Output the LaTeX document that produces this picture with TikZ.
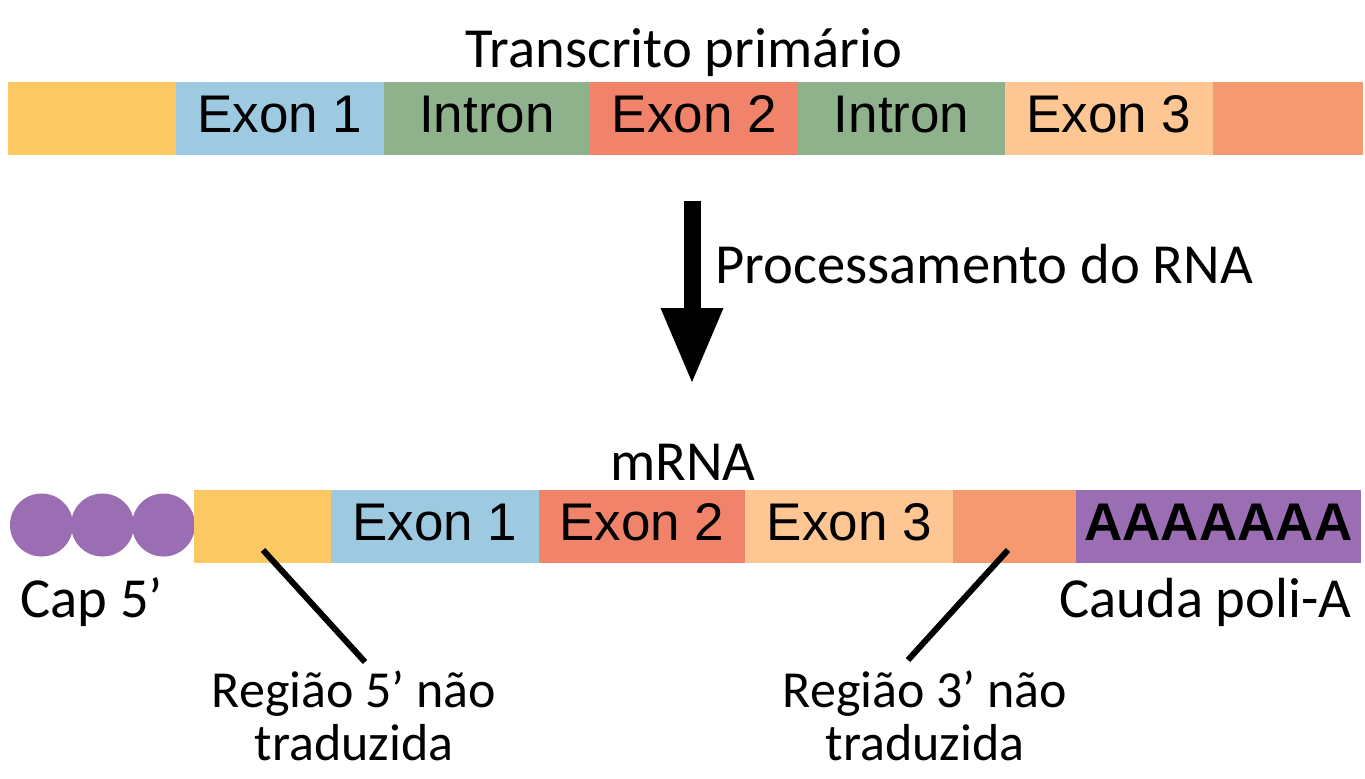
\documentclass[tikz,border=0pt]{standalone}
\usepackage{fontspec}
\setmainfont{Carlito}
\newfontfamily\arialfont{Liberation Sans}
\usepackage{tikz}
\usetikzlibrary{arrows.meta, positioning}

\definecolor{utrfive}{HTML}{FCC864}
\definecolor{exonone}{HTML}{9DCAE1}
\definecolor{introncol}{HTML}{8FB28C}
\definecolor{exontwo}{HTML}{F0836A}
\definecolor{exonthree}{HTML}{FDC693}
\definecolor{utrthree}{HTML}{F59A70}
\definecolor{capcol}{HTML}{9B6EB3}

\begin{document}
\begin{tikzpicture}[
                x=0.5pt, y=-0.5pt,
                segment/.style={rectangle, inner sep=0pt, minimum height=36pt, text height=19pt, text depth=4.5pt, line width=0.4pt, font=\arialfont\fontsize{26.5}{30}\selectfont},
                tone/.style={fill=#1, draw=#1},
                capdot/.style={circle, fill=capcol, inner sep=0pt, minimum size=31.5pt},
                txt/.style={inner sep=0pt, font=\fontsize{28.3}{26.5}\selectfont},
                note/.style={inner sep=0pt, align=center, font=\fontsize{26}{26.5}\selectfont},
                pointer/.style={line width=3pt},
                process/.style={-{Triangle[width=31.5pt, length=37pt, line width=0pt]}, line width=8.5pt}
                ]
                \useasboundingbox (0,0) rectangle (1365,778);

                % Transcrito primario - segmentos lado a lado
                \node[txt, anchor=base] (title) at (684,67) {Transcrito primário};
                \node[segment, tone=utrfive, minimum width=83.5pt, anchor=west] (t0) at (8,118) {};
                \node[segment, tone=exonone, minimum width=103.5pt, right=0pt of t0] (t1) {Exon 1};
                \node[segment, tone=introncol, minimum width=103pt, right=0pt of t1] (t2) {Intron};
                \node[segment, tone=exontwo, minimum width=103.5pt, right=0pt of t2] (t3) {Exon 2};
                \node[segment, tone=introncol, minimum width=103pt, right=0pt of t3] (t4) {Intron};
                \node[segment, tone=exonthree, minimum width=103.5pt, right=0pt of t4] (t5) {Exon 3};
                \node[segment, tone=utrthree, minimum width=74.5pt, right=0pt of t5] (t6) {};

                % Seta de processamento
                \coordinate (procstart) at (692,201);
                \coordinate (procend) at (692,382);
                \draw[process] (procstart) -- (procend);
                \node[txt, anchor=base west] (proc) at (715,283) {Processamento do RNA};

                % mRNA maduro
                \node[txt, anchor=base] (mrna) at (683,480) {mRNA};
                \node[capdot] (cap1) at (41.5,525) {};
                \node[capdot] (cap2) at (102.5,525) {};
                \node[capdot] (cap3) at (163.5,525) {};
                \node[segment, tone=utrfive, minimum width=68pt, anchor=west] (m0) at (194,526) {};
                \node[segment, tone=exonone, minimum width=103.5pt, right=0pt of m0] (m1) {Exon 1};
                \node[segment, tone=exontwo, minimum width=103pt, right=0pt of m1] (m2) {Exon 2};
                \node[segment, tone=exonthree, minimum width=103.5pt, right=0pt of m2] (m3) {Exon 3};
                \node[segment, tone=utrthree, minimum width=61pt, right=0pt of m3] (m4) {};
                \node[segment, tone=capcol, minimum width=142pt, right=0pt of m4, font=\arialfont\bfseries\fontsize{26.5}{30}\selectfont] (m5) {AAAAAAA};

                % Legendas
                \node[txt, anchor=base west] (cap) at (20,617) {Cap 5’};
                \node[txt, anchor=base east] (tail) at (1352,617) {Cauda poli-A};
                \node[note, anchor=base] (reg5) at (354,760) {Região 5’ não\\traduzida};
                \node[note, anchor=base] (reg3) at (925,760) {Região 3’ não\\traduzida};

                % Linhas indicadoras
                \coordinate (utr5pin) at (263,550);
                \coordinate (utr5foot) at (365,662);
                \coordinate (utr3pin) at (1008,550);
                \coordinate (utr3foot) at (908,660);
                \draw[pointer] (utr5pin) -- (utr5foot);
                \draw[pointer] (utr3pin) -- (utr3foot);

\end{tikzpicture}
\end{document}
